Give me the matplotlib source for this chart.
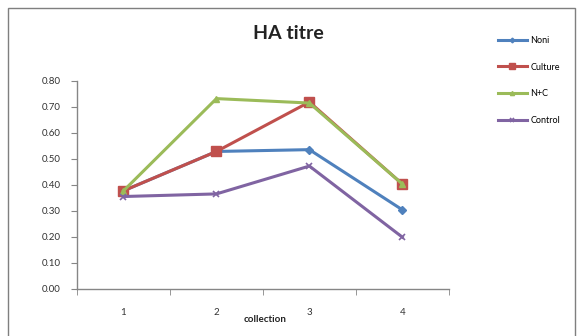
import matplotlib
matplotlib.use("Agg")
import matplotlib.pyplot as plt
from matplotlib.patches import Rectangle

# ---------------------------------------------------------------------
# Data
# ---------------------------------------------------------------------
collections = [1, 2, 3, 4]
tick_labels = ["1", "2", "3", "4"]

noni = [0.377, 0.528, 0.535, 0.304]
culture = [0.377, 0.528, 0.718, 0.403]
noni_c = [0.377, 0.731, 0.714, 0.403]
control = [0.355, 0.365, 0.472, 0.199]

y_ticks = [0.0, 0.1, 0.2, 0.3, 0.4, 0.5, 0.6, 0.7, 0.8]

plt.rcParams["font.family"] = ["Lato", "DejaVu Sans"]

fig = plt.figure(figsize=(5.8, 3.36), dpi=100)
ax = fig.add_axes([0.1328, 0.140, 0.641, 0.62])

# outer chart border
fig.patches.append(Rectangle((8 / 580, -0.01), 567 / 580, 1 - 8 / 336 + 0.01,
                             transform=fig.transFigure, fill=False,
                             edgecolor="#7f7f7f", linewidth=1.0))

ax.plot(collections, noni, color="#4F81BD", linewidth=2.2, marker="D",
        markersize=4, label="Noni")
ax.plot(collections, culture, color="#C0504D", linewidth=2.2, marker="s",
        markersize=6.5, label="Culture")
ax.plot(collections, noni_c, color="#9BBB59", linewidth=2.2, marker="^",
        markersize=5, label="N+C")
ax.plot(collections, control, color="#8064A2", linewidth=2.2, marker="x",
        markersize=5, markeredgewidth=1.2, label="Control")

ax.set_xlim(0.5, 4.5)
ax.set_ylim(0, 0.8)
ax.set_yticks(y_ticks)
ax.set_yticklabels([f"{v:.2f}" for v in y_ticks])
ax.set_xticks(collections)
ax.set_xticklabels(tick_labels)
ax.set_xticks([0.5, 1.5, 2.5, 3.5, 4.5], minor=True)

for side in ["top", "right"]:
    ax.spines[side].set_visible(False)
for side in ["left", "bottom"]:
    ax.spines[side].set_color("#868686")
    ax.spines[side].set_linewidth(1.0)

ax.tick_params(axis="y", length=4, color="#868686", labelsize=7, pad=8,
               labelcolor="#333333")
ax.tick_params(axis="x", which="major", length=0, labelsize=7, pad=14,
               labelcolor="#333333")
ax.tick_params(axis="x", which="minor", length=4, color="#868686")

fig.text(0.498, 0.900, "HA titre", fontsize=14, fontweight="bold",
         ha="center", va="center", color="#222222")
fig.text(0.457, 0.048, "collection", fontsize=7, fontweight="bold",
         ha="center", va="center", color="#222222")

ax.legend(loc="upper left", bbox_to_anchor=(0.858, 0.893),
          bbox_transform=fig.transFigure, frameon=False, fontsize=6.5,
          handlelength=3.2, labelspacing=1.95, handletextpad=0.4,
          borderaxespad=0, borderpad=0, markerscale=0.6)

fig.savefig("out.png", dpi=100)
